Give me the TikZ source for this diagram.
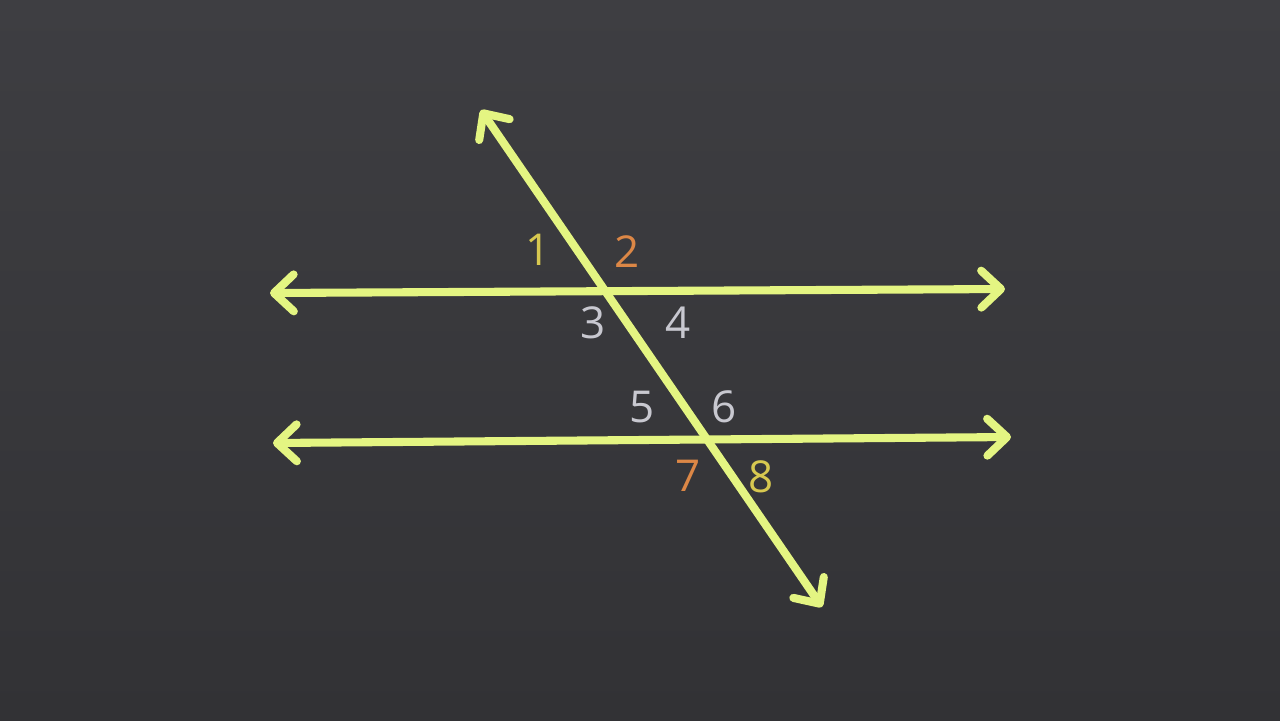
\documentclass[tikz,border=0pt]{standalone}
\usepackage{fontspec}
\setmainfont{Open Sans}
\usetikzlibrary{arrows.meta}
\definecolor{board}{RGB}{50,50,53}
\definecolor{boardlight}{RGB}{62,62,66}
\definecolor{chalkline}{RGB}{228,245,130}
\definecolor{numyellow}{RGB}{215,200,80}
\definecolor{numorange}{RGB}{220,135,70}
\definecolor{numgray}{RGB}{200,200,208}
\tikzset{
  chalk/.style={line width=2.3pt, draw=chalkline, line cap=round,
    {Straight Barb[length=5.6pt,width=10.5pt,round]}-{Straight Barb[length=5.6pt,width=10.5pt,round]}},
  anglenum/.style={font=\fontsize{12.5}{12.5}\selectfont, inner sep=0pt}
}
\begin{document}
\begin{tikzpicture}[x=0.1mm,y=-0.1mm]
  \shade[top color=boardlight, bottom color=board] (0,0) rectangle (1280,720);
  \useasboundingbox (0,0) rectangle (1280,720);
  % line endpoints
  \coordinate (t1l) at (270,293);
  \coordinate (t1r) at (1005,289);
  \coordinate (t2l) at (273,443);
  \coordinate (t2r) at (1011,437);
  \coordinate (trt) at (481,110);
  \coordinate (trb) at (822,607);
  \draw[chalk] (t1l) -- (t1r);
  \draw[chalk] (t2l) -- (t2r);
  \draw[chalk] (trt) -- (trb);
  % angle numbers
  \node[anglenum, text=numyellow] (n1) at (538,250) {1};
  \node[anglenum, text=numorange] (n2) at (627,252) {2};
  \node[anglenum, text=numgray] (n3) at (593,323) {3};
  \node[anglenum, text=numgray] (n4) at (678,323) {4};
  \node[anglenum, text=numgray] (n5) at (642,407) {5};
  \node[anglenum, text=numgray] (n6) at (724,407) {6};
  \node[anglenum, text=numorange] (n7) at (688,476) {7};
  \node[anglenum, text=numyellow] (n8) at (761,477) {8};
\end{tikzpicture}
\end{document}
